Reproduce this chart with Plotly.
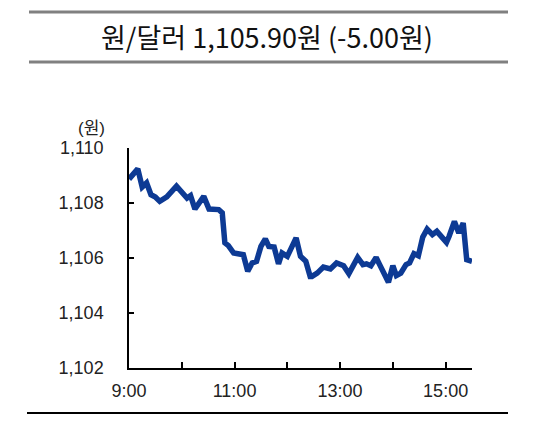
import plotly.graph_objects as go

times = ["09:00","09:10","09:15","09:20","09:25","09:30","09:35","09:43","09:54","10:06",
         "10:10","10:15","10:25","10:31","10:42","10:46","10:49","10:53","10:59","11:10",
         "11:15","11:20","11:25","11:30","11:35","11:39","11:45","11:50","11:54","12:00",
         "12:10","12:15","12:21","12:26","12:28","12:34","12:41","12:49","12:56","13:04",
         "13:10","13:15","13:20","13:26","13:30","13:35","13:41","13:45","13:50","13:55",
         "14:00","14:04","14:09","14:15","14:19","14:24","14:29","14:34","14:39","14:45",
         "14:50","14:55","15:01","15:04","15:10","15:15","15:20","15:24","15:30"]
values = [1108.87,1109.24,1108.58,1108.73,1108.30,1108.22,1108.06,1108.22,1108.61,1108.18,
          1108.27,1107.78,1108.24,1107.78,1107.76,1107.64,1106.55,1106.45,1106.18,1106.12,
          1105.52,1105.82,1105.88,1106.42,1106.69,1106.42,1106.40,1105.79,1106.18,1106.06,
          1106.73,1106.06,1105.88,1105.33,1105.33,1105.45,1105.67,1105.60,1105.82,1105.72,
          1105.43,1105.76,1106.02,1105.76,1105.79,1105.72,1106.02,1105.76,1105.43,1105.12,
          1105.72,1105.36,1105.45,1105.76,1105.82,1106.16,1106.08,1106.76,1107.05,1106.85,
          1106.97,1106.79,1106.57,1106.79,1107.33,1106.91,1107.27,1105.94,1105.88]

tick_times = ["09:00","10:00","11:00","12:00","13:00","14:00","15:00"]
tick_labels = ["9:00","","11:00","","13:00","","15:00"]
y_ticks = [1102, 1104, 1106, 1108, 1110]
title_text = "원/달러 1,105.90원 (-5.00원)"
unit_text = "(원)"

def to_min(t):
    h, m = t.split(":")
    return (int(h) - 9) * 60 + int(m)

x = [to_min(t) for t in times]

fig = go.Figure()
fig.add_trace(go.Scatter(x=x, y=values, mode="lines",
                         line=dict(color="#0d3a94", width=5.5), hoverinfo="skip"))

OFF = 8  # page body margin
W, H = 550, 425
L, T = 129 - OFF, 148 - OFF
R = W - (472 - OFF)
B = H - (368 - OFF)
pw, ph = W - L - R, H - T - B

def px(xp):
    return (xp - OFF - L) / pw

def py(yp):
    return (H - B - (yp - OFF)) / ph

font_lbl = dict(family="Liberation Sans, Arial, sans-serif", size=18, color="#222")

fig.update_layout(
    width=W, height=H,
    margin=dict(l=L, r=R, t=T, b=B),
    paper_bgcolor="white", plot_bgcolor="white",
    showlegend=False,
    xaxis=dict(range=[0, 390], tickvals=[to_min(t) for t in tick_times], ticktext=tick_labels,
               ticks="inside", ticklen=6, tickwidth=1.5, tickcolor="black",
               showline=True, linecolor="black", linewidth=1.5,
               showgrid=False, zeroline=False, tickfont=font_lbl, ticklabelstandoff=6),
    yaxis=dict(range=[1102, 1110], tickvals=y_ticks, tickformat=",d",
               ticks="inside", ticklen=5, tickwidth=1.5, tickcolor="black",
               showline=True, linecolor="black", linewidth=1.5,
               showgrid=False, zeroline=False, tickfont=font_lbl, ticklabelstandoff=20),
    shapes=[
        dict(type="line", xref="paper", yref="paper", x0=px(29), x1=px(508), y0=py(12), y1=py(12),
             line=dict(color="#808080", width=3)),
        dict(type="line", xref="paper", yref="paper", x0=px(29), x1=px(508), y0=py(62), y1=py(62),
             line=dict(color="#808080", width=3)),
        dict(type="line", xref="paper", yref="paper", x0=px(27), x1=px(508), y0=py(413), y1=py(413),
             line=dict(color="black", width=2)),
    ],
    annotations=[
        dict(text=title_text, xref="paper", yref="paper", x=px(267), y=py(37),
             showarrow=False, xanchor="center", yanchor="middle",
             font=dict(family="Noto Sans CJK KR", size=27, color="#111")),
        dict(text=unit_text, xref="paper", yref="paper", x=px(91), y=py(129),
             showarrow=False, xanchor="center", yanchor="middle",
             font=dict(family="Liberation Sans, Noto Sans CJK KR", size=17, color="#222")),
    ],
)

fig.write_html("out.html")
